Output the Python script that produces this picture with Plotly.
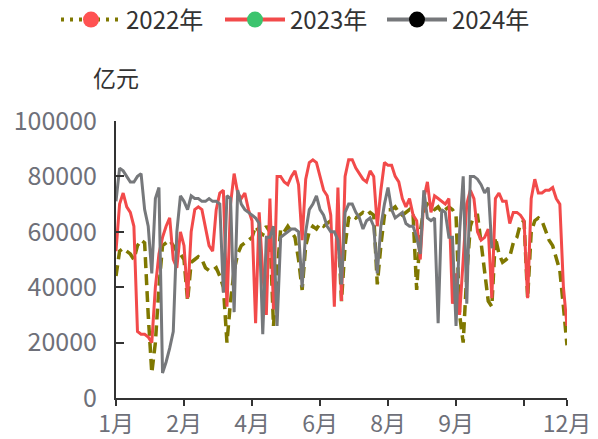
import plotly.graph_objects as go

# x categories: trading-day positions (index) across the year
DAYS = list(range(127))
TICK_POS = [0, 19, 38, 57, 76, 95, 114, 126]
TICK_TEXT = ["1月", "2月", "4月", "6月", "8月", "9月", "", "12月"]
Y_TICKS = [0, 20000, 40000, 60000, 80000, 100000]

# values in 亿元 (thousands, scaled below)
Y2022 = [44, 53, 54, 53, 52, 50, 55, 57, 56, 30, 9, 20, 40, 55, 56, 57, 55, 53, 52, 50,
         35, 49, 50, 51, 50, 47, 46, 46, 47, 44, 40, 20, 35, 46, 52, 55, 56, 57, 58, 62,
         60, 59, 62, 60, 26, 45, 61, 60, 62, 60, 58, 50, 39, 55, 60, 62, 61, 63, 62, 63,
         64, 64, 63, 35, 55, 65, 66, 65, 66, 67, 66, 67, 66, 41, 55, 66, 68, 68, 69, 67,
         66, 67, 68, 66, 39, 60, 68, 70, 69, 68, 69, 67, 68, 69, 68, 66, 30, 20, 45, 62,
         66, 66, 56, 46, 35, 33, 58, 52, 49, 50, 51, 56, 58, 63, 64, 36, 60, 64, 65, 64,
         60, 57, 55, 50, 46, 33, 19]
Y2023 = [53, 70, 74, 69, 67, 62, 24, 23, 23, 22, 20, 40, 52, 58, 62, 65, 50, 47, 60, 55,
         36, 60, 68, 69, 68, 62, 55, 53, 68, 74, 75, 33, 70, 81, 74, 72, 74, 68, 64, 27,
         67, 45, 30, 72, 32, 80, 80, 78, 77, 80, 82, 77, 57, 79, 85, 86, 85, 80, 75, 73,
         66, 33, 76, 35, 80, 86, 86, 83, 81, 79, 78, 82, 80, 62, 75, 85, 84, 84, 80, 78,
         72, 69, 72, 66, 64, 50, 72, 78, 67, 73, 72, 71, 70, 72, 34, 45, 30, 50, 70, 75,
         72, 60, 57, 58, 61, 36, 72, 74, 71, 71, 63, 67, 67, 66, 64, 36, 72, 79, 74, 74,
         75, 75, 76, 72, 70, 40, 26]
Y2024 = [71, 83, 82, 80, 78, 78, 80, 81, 68, 62, 45, 72, 76, 9, 13, 18, 24, 60, 73, 71,
         68, 73, 72, 72, 71, 71, 72, 71, 71, 70, 38, 73, 72, 31, 75, 70, 68, 67, 66, 65,
         63, 23, 58, 58, 62, 26, 58, 59, 60, 61, 61, 60, 40, 60, 68, 70, 73, 68, 66, 62,
         60, 60, 57, 41, 67, 70, 70, 67, 65, 61, 64, 65, 62, 45, 62, 70, 76, 68, 65, 66,
         67, 63, 62, 62, 58, 52, 75, 65, 64, 65, 27, 68, 67, 58, 58, 26, 60, 80, 34, 80,
         80, 79, 77, 74, 76, 54]

SERIES = [
    ("2022年", Y2022, "#7f7800", "dash", "#ff5252", "legend"),
    ("2023年", Y2023, "#f24a4a", "solid", "#3cc46e", "legend2"),
    ("2024年", Y2024, "#76787b", "solid", "#000000", "legend3"),
]
LEGEND_LEFT = [56, 220, 382]   # page px of each legend box

FONT = "Noto Sans CJK SC"
fig = go.Figure()
for name, vals, color, dash, mcolor, lg in SERIES:
    is_dash = dash == "dash"
    fig.add_trace(go.Scatter(
        x=DAYS[:len(vals)], y=[v * 1000 for v in vals], mode="lines", name=name,
        line=dict(color=color, width=3.5 if is_dash else 3,
                  dash="11px,6px" if is_dash else "solid"),
        showlegend=False, hoverinfo="skip"))
for name, vals, color, dash, mcolor, lg in SERIES:
    fig.add_trace(go.Scatter(
        x=[None], y=[None], mode="lines+markers", name=name, legend=lg,
        line=dict(color=color, width=4, dash="3px,6px" if dash == "dash" else "solid"),
        marker=dict(color=mcolor, size=18), showlegend=True))

W, H = 598, 439
legends = {}
for (name, vals, color, dash, mcolor, lg), left in zip(SERIES, LEGEND_LEFT):
    legends[lg] = dict(orientation="h", xref="container", yref="container",
                       x=left / W, xanchor="left", y=1 - 20 / H, yanchor="middle",
                       font=dict(size=24, color="#333333", family=FONT), itemwidth=60,
                       bgcolor="rgba(0,0,0,0)", borderwidth=0)

fig.update_layout(
    width=W, height=H,
    margin=dict(l=116, r=31, t=121, b=41, autoexpand=False),
    paper_bgcolor="white", plot_bgcolor="white",
    font=dict(family=FONT, size=22, color="#333333"),
    showlegend=True,
    **legends,
    xaxis=dict(range=[0, 126], tickmode="array", tickvals=TICK_POS, ticktext=TICK_TEXT,
               automargin=False,
               showgrid=False, zeroline=False, showline=True, linecolor="#333333",
               linewidth=2, ticks="outside", ticklen=6, tickwidth=2, tickcolor="#333333",
               ticklabelstandoff=-2,
               tickfont=dict(size=23, color="#6e7079", family=FONT)),
    yaxis=dict(range=[0, 100000], tickmode="array", tickvals=Y_TICKS,
               ticktext=[str(v) for v in Y_TICKS], automargin=False,
               showgrid=False, zeroline=False, showline=True, linecolor="#333333",
               linewidth=2, ticks="inside", ticklen=8, tickwidth=2, tickcolor="#333333",
               ticklabelstandoff=12,
               tickfont=dict(size=25, color="#6e7079", family=FONT)),
    annotations=[dict(text="亿元", xref="paper", yref="paper", x=0, y=1.159,
                      xanchor="center", yanchor="middle", showarrow=False,
                      font=dict(size=23, color="#333333", family=FONT))],
)
fig.write_html("out.html", post_script="document.body.style.margin='0';",
               config={"displayModeBar": False})
